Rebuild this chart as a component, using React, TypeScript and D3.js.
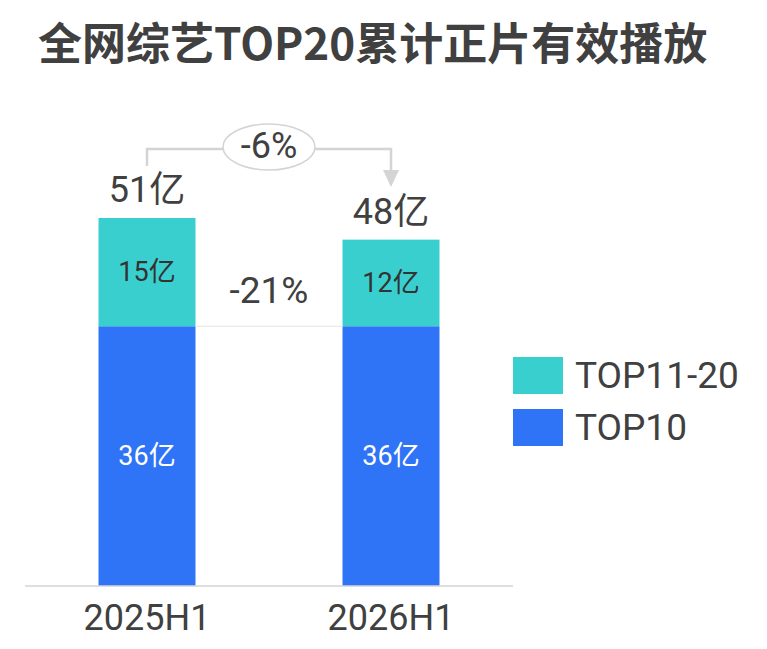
import React, { useEffect, useRef } from 'react';
import * as d3 from 'd3';

const periods = ['2025H1', '2026H1'];
const top10 = [36, 36];
const top11to20 = [15, 12];
const totals = [51, 48];
const seriesNames = ['TOP11-20', 'TOP10'];
const totalChange = '-6%';
const tailChange = '-21%';
const title = '全网综艺TOP20累计正片有效播放';

const TEAL = '#3acfcf';
const BLUE = '#2f74f6';
const INK = '#404040';
const LINE = '#d4d4d4';
const NUM_FONT = 'Roboto, "Noto Sans CJK SC", sans-serif';

export default function App() {
  const ref = useRef<SVGSVGElement>(null);

  useEffect(() => {
    const width = 767;
    const height = 649;
    const svg = d3.select(ref.current);
    svg.selectAll('*').remove();
    svg.attr('width', width).attr('height', height);

    svg
      .append('text')
      .attr('x', 38)
      .attr('y', 60)
      .attr('font-family', '"Noto Sans CJK SC", sans-serif')
      .attr('font-weight', 700)
      .attr('font-size', 44)
      .attr('fill', INK)
      .text(title);

    const x = d3
      .scaleBand<string>()
      .domain(periods)
      .range([25, 513])
      .paddingInner(0.6025)
      .paddingOuter(0.30125);

    const y = d3.scaleLinear().domain([0, 51]).range([586, 218]);

    const rows = periods.map((p, i) => ({ period: p, top10: top10[i], top11: top11to20[i], total: totals[i] }));
    const stack = d3.stack<any>().keys(['top10', 'top11'])(rows);
    const colors = [BLUE, TEAL];

    stack.forEach((layer, li) => {
      svg
        .append('g')
        .selectAll('rect')
        .data(layer)
        .join('rect')
        .attr('x', (d: any) => x(d.data.period)!)
        .attr('width', x.bandwidth())
        .attr('y', (d) => y(d[1]))
        .attr('height', (d) => y(d[0]) - y(d[1]))
        .attr('fill', colors[li]);

      svg
        .append('g')
        .selectAll('text')
        .data(layer)
        .join('text')
        .attr('x', (d: any) => x(d.data.period)! + x.bandwidth() / 2)
        .attr('y', (d) => (y(d[0]) + y(d[1])) / 2)
        .attr('text-anchor', 'middle')
        .attr('dominant-baseline', 'central')
        .attr('font-family', NUM_FONT)
        .attr('font-size', 27)
        .attr('fill', li === 0 ? '#fff' : '#333')
        .text((d) => `${d[1] - d[0]}亿`);
    });

    // thin connector between the TOP10 tops
    svg
      .append('line')
      .attr('x1', x(periods[0])! + x.bandwidth())
      .attr('x2', x(periods[1])!)
      .attr('y1', y(top10[0]))
      .attr('y2', y(top10[1]))
      .attr('stroke', '#e4e4e4')
      .attr('stroke-width', 1);

    svg
      .append('text')
      .attr('x', (x(periods[0])! + x.bandwidth() + x(periods[1])!) / 2)
      .attr('y', 303)
      .attr('text-anchor', 'middle')
      .attr('font-family', NUM_FONT)
      .attr('font-size', 37)
      .attr('fill', INK)
      .text(tailChange);

    // totals above the bars
    svg
      .append('g')
      .selectAll('text')
      .data(rows)
      .join('text')
      .attr('x', (d) => x(d.period)! + x.bandwidth() / 2)
      .attr('y', (d) => y(d.total) - 16)
      .attr('text-anchor', 'middle')
      .attr('font-family', NUM_FONT)
      .attr('font-size', 36)
      .attr('fill', INK)
      .text((d) => `${d.total}亿`);

    // bracket with arrow for the total change
    const cx0 = x(periods[0])! + x.bandwidth() / 2;
    const cx1 = x(periods[1])! + x.bandwidth() / 2;
    const by = 149;
    svg
      .append('path')
      .attr('d', `M${cx0},166 V${by} H${cx1} V172`)
      .attr('fill', 'none')
      .attr('stroke', LINE)
      .attr('stroke-width', 2.5);
    svg
      .append('path')
      .attr('d', `M${cx1 - 8},170 L${cx1 + 8},170 L${cx1},187 Z`)
      .attr('fill', LINE);

    const mid = (cx0 + cx1) / 2;
    svg
      .append('ellipse')
      .attr('cx', mid)
      .attr('cy', 147)
      .attr('rx', 46)
      .attr('ry', 23)
      .attr('fill', '#fff')
      .attr('stroke', LINE)
      .attr('stroke-width', 1.5);
    svg
      .append('text')
      .attr('x', mid)
      .attr('y', 158)
      .attr('text-anchor', 'middle')
      .attr('font-family', NUM_FONT)
      .attr('font-size', 36)
      .attr('fill', INK)
      .text(totalChange);

    // x axis
    svg
      .append('line')
      .attr('x1', 25)
      .attr('x2', 513)
      .attr('y1', y(0))
      .attr('y2', y(0))
      .attr('stroke', LINE)
      .attr('stroke-width', 1.5);

    svg
      .append('g')
      .selectAll('text')
      .data(periods)
      .join('text')
      .attr('x', (d) => x(d)! + x.bandwidth() / 2)
      .attr('y', 630)
      .attr('text-anchor', 'middle')
      .attr('font-family', NUM_FONT)
      .attr('font-size', 36)
      .attr('fill', INK)
      .text((d) => d);

    // legend
    const legend = svg
      .append('g')
      .selectAll('g')
      .data(seriesNames)
      .join('g')
      .attr('transform', (d, i) => `translate(513, ${357 + i * 52})`);
    legend
      .append('rect')
      .attr('width', 50)
      .attr('height', 37)
      .attr('fill', (d, i) => (i === 0 ? TEAL : BLUE));
    legend
      .append('text')
      .attr('x', 62)
      .attr('y', 31)
      .attr('font-family', NUM_FONT)
      .attr('font-size', 37)
      .attr('fill', INK)
      .text((d) => d);
  }, []);

  return <svg ref={ref} style={{ position: 'absolute', left: 0, top: 0, background: '#fff' }} />;
}
